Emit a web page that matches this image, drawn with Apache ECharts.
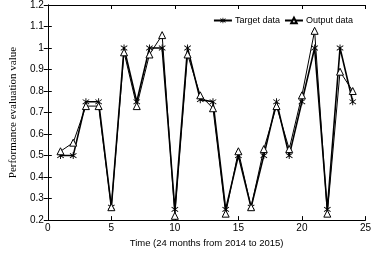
<!DOCTYPE html>
<html>
<head>
<meta charset="utf-8">
<script src="https://cdn.jsdelivr.net/npm/echarts@6/dist/echarts.min.js"></script>
<style>
html, body { margin: 0; padding: 0; background: #fff; }
#chart { width: 374px; height: 253px; }
</style>
</head>
<body>
<div id="chart"></div>
<script>
// months 1..24
var months = [1, 2, 3, 4, 5, 6, 7, 8, 9, 10, 11, 12, 13, 14, 15, 16, 17, 18, 19, 20, 21, 22, 23, 24];
var targetData = [0.50, 0.50, 0.75, 0.75, 0.26, 1.00, 0.75, 1.00, 1.00, 0.25, 1.00, 0.76,
                  0.75, 0.25, 0.50, 0.26, 0.50, 0.75, 0.50, 0.75, 1.00, 0.25, 1.00, 0.75];
var outputData = [0.52, 0.56, 0.73, 0.73, 0.26, 0.98, 0.73, 0.97, 1.06, 0.22, 0.97, 0.78,
                  0.72, 0.23, 0.52, 0.26, 0.53, 0.73, 0.53, 0.78, 1.08, 0.23, 0.89, 0.80];

function pairs(vals) {
    var out = [];
    for (var i = 0; i < months.length; i++) {
        out.push([months[i], vals[i]]);
    }
    return out;
}

// asterisk marker made of three bars
var asterisk = 'path://M8.8,0 L11.2,0 L11.2,20 L8.8,20 Z M1.0,4.5 L2.2,2.4 L19.0,15.5 L17.8,17.6 Z M17.8,2.4 L19.0,4.5 L2.2,17.6 L1.0,15.5 Z';

var tickStyle = { inside: true, length: 4, lineStyle: { color: '#000' } };
var lineAx = { show: true, lineStyle: { color: '#000', width: 1 } };
var labelFont = { color: '#000', fontSize: 10, fontFamily: 'Liberation Sans' };

var myChart = echarts.init(document.getElementById('chart'));
var option = {
    animation: false,
    grid: { left: 27, right: 6, top: 5, bottom: 22 },
    legend: {
        right: 16,
        top: 11,
        itemWidth: 18,
        itemHeight: 7,
        itemGap: 4,
        textStyle: { color: '#000', fontSize: 9, fontFamily: 'Liberation Sans', padding: [0, 0, 0, -2] },
        data: ['Target data', 'Output data']
    },
    xAxis: [{
        type: 'value',
        min: 0, max: 25, interval: 5,
        name: 'Time (24 months from 2014 to 2015)',
        nameLocation: 'middle',
        nameGap: 13,
        nameTextStyle: { color: '#000', fontSize: 9.5, fontFamily: 'Liberation Sans' },
        axisLine: lineAx,
        axisTick: tickStyle,
        axisLabel: Object.assign({ margin: 3 }, labelFont),
        splitLine: { show: false }
    }, {
        type: 'value',
        position: 'top',
        min: 0, max: 25, interval: 5,
        axisLine: lineAx,
        axisTick: tickStyle,
        axisLabel: { show: false },
        splitLine: { show: false }
    }],
    yAxis: [{
        type: 'value',
        min: 0.2, max: 1.2, interval: 0.1,
        name: 'Performance evaluation value',
        nameLocation: 'middle',
        nameGap: 19,
        nameTextStyle: { color: '#000', fontSize: 11, fontFamily: 'Liberation Serif' },
        axisLine: lineAx,
        axisTick: tickStyle,
        axisLabel: Object.assign({ margin: 4, formatter: function (v) {
            return String(Math.round(v * 10) / 10);
        } }, labelFont),
        splitLine: { show: false }
    }, {
        type: 'value',
        position: 'right',
        min: 0.2, max: 1.2, interval: 0.1,
        axisLine: lineAx,
        axisTick: tickStyle,
        axisLabel: { show: false },
        splitLine: { show: false }
    }],
    series: [{
        name: 'Target data',
        type: 'line',
        data: pairs(targetData),
        symbol: asterisk,
        symbolSize: 7,
        lineStyle: { color: '#000', width: 1.6 },
        itemStyle: { color: '#000' }
    }, {
        name: 'Output data',
        type: 'line',
        data: pairs(outputData),
        symbol: 'triangle',
        symbolSize: 7,
        lineStyle: { color: '#000', width: 1 },
        itemStyle: { color: '#fff', borderColor: '#000', borderWidth: 1 }
    }]
};
myChart.setOption(option);
</script>
</body>
</html>
